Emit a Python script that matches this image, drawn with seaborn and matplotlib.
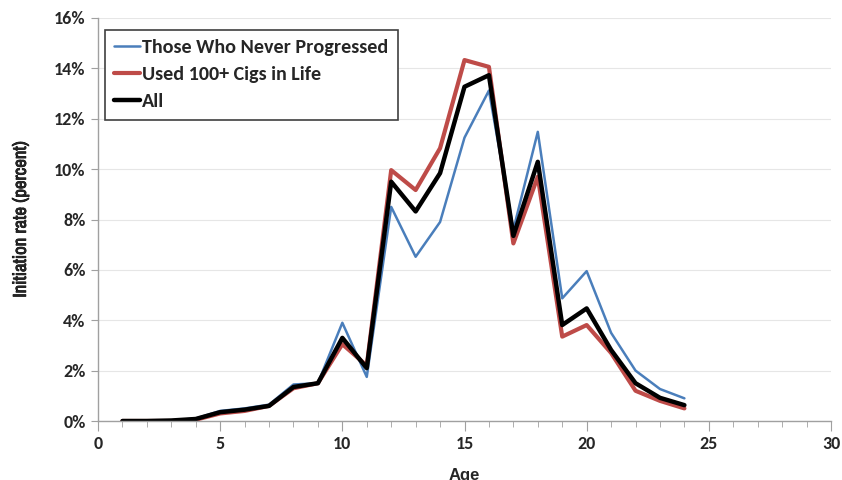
import matplotlib
matplotlib.use("Agg")
import matplotlib.pyplot as plt
import matplotlib.patheffects as pe
import seaborn as sns
import pandas as pd
from matplotlib.ticker import MultipleLocator, FuncFormatter
from matplotlib import font_manager

ages = list(range(1, 25))
never_progressed = [0.0, 0.0, 0.02, 0.1, 0.4, 0.5, 0.65, 1.45, 1.5, 3.9, 1.75, 8.5,
                    6.52, 7.9, 11.25, 13.12, 7.6, 11.48, 4.87, 5.95, 3.5, 2.0, 1.27, 0.9]
used_100 = [0.0, 0.0, 0.0, 0.05, 0.3, 0.4, 0.6, 1.3, 1.5, 3.05, 2.2, 9.96,
            9.17, 10.83, 14.33, 14.06, 7.05, 9.7, 3.35, 3.81, 2.7, 1.2, 0.8, 0.5]
all_vals = [0.0, 0.0, 0.02, 0.08, 0.35, 0.45, 0.6, 1.35, 1.5, 3.3, 2.1, 9.5,
            8.32, 9.84, 13.27, 13.73, 7.35, 10.29, 3.81, 4.47, 2.82, 1.5, 0.92, 0.63]
series_names = ["Those Who Never Progressed", "Used 100+ Cigs in Life", "All"]
colors = ["#4a7ebb", "#be4b48", "#000000"]
widths = [1.8, 3.0, 3.2]

df = pd.concat([
    pd.DataFrame({"Age": ages, "rate": vals, "series": name})
    for name, vals in zip(series_names, [never_progressed, used_100, all_vals])
])

names = {f.name for f in font_manager.fontManager.ttflist}
def pick(cands, default):
    for c in cands:
        if c in names:
            return c
    return default

body_font = pick(["Carlito", "Lato"], "DejaVu Sans")
narrow_font = pick(["Liberation Sans Narrow", "Arial Narrow", "Archivo Narrow",
                    "PT Sans Narrow", "Roboto Condensed"], "DejaVu Sans")

sns.set_style("white")
plt.rcParams["font.family"] = [body_font, "DejaVu Sans"]

fig = plt.figure(figsize=(8.42, 4.8), dpi=100)
ax = fig.add_axes([98/842, 1-421/480, (831-98)/842, (421-18)/480])

for name, c, w in zip(series_names, colors, widths):
    sns.lineplot(data=df[df["series"] == name], x="Age", y="rate", color=c,
                 linewidth=w, ax=ax, label=name, sort=False)

ax.set_xlim(0, 30)
ax.set_ylim(0, 16)
ax.xaxis.set_major_locator(MultipleLocator(5))
ax.xaxis.set_minor_locator(MultipleLocator(1))
ax.yaxis.set_major_locator(MultipleLocator(2))
ax.yaxis.set_major_formatter(FuncFormatter(lambda v, p: f"{int(round(v))}%"))
ax.grid(axis="y", color="#e6e6e6", linewidth=0.8)
ax.set_axisbelow(True)
for s in ["top", "right"]:
    ax.spines[s].set_visible(False)
for s in ["left", "bottom"]:
    ax.spines[s].set_color("#a0a0a0")
    ax.spines[s].set_linewidth(1.0)
ax.tick_params(axis="x", which="major", direction="out", length=7, color="#a0a0a0",
               labelsize=13, pad=4, bottom=True)
ax.tick_params(axis="x", which="minor", direction="out", length=4, color="#a0a0a0", bottom=True)
ax.tick_params(axis="y", which="major", direction="out", length=5, color="#a0a0a0",
               labelsize=13, pad=4, left=True)
for lbl in ax.get_xticklabels() + ax.get_yticklabels():
    lbl.set_fontweight("bold")

ax.set_xlabel("Age", fontsize=12, fontweight="bold", labelpad=11,
              family=["Liberation Sans", "DejaVu Sans"])
yl = ax.set_ylabel("Initiation rate (percent)", fontsize=13.5, fontweight="bold",
                   family=[narrow_font, "DejaVu Sans"], labelpad=18)
yl.set_path_effects([pe.withStroke(linewidth=0.55, foreground="black")])

leg = ax.legend(loc="upper left", bbox_to_anchor=(7/733, 1-12/403), frameon=True,
                fancybox=False, edgecolor="#404040", framealpha=1,
                prop={"weight": "bold", "size": 14.5, "family": [body_font, "DejaVu Sans"]},
                handlelength=1.3, handletextpad=0.1, labelspacing=0.5,
                borderpad=0.45, borderaxespad=0)
leg.get_frame().set_linewidth(1.2)

fig.savefig("out.png", dpi=100)
